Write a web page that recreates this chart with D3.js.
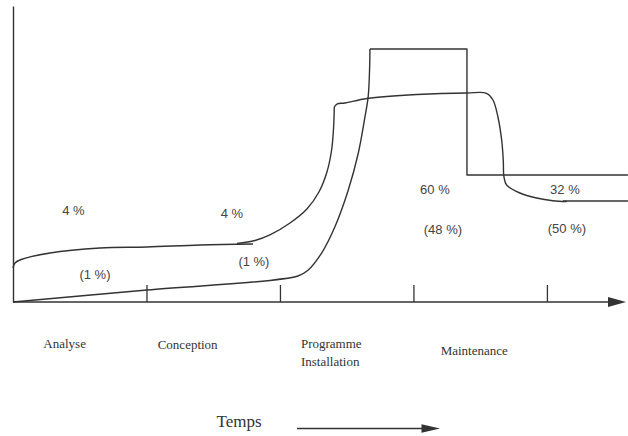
<!DOCTYPE html>
<html>
<head>
<meta charset="utf-8">
<script src="https://cdn.jsdelivr.net/npm/d3@7"></script>
<style>
  html, body { margin: 0; padding: 0; background: #fff; }
  svg { display: block; }
</style>
</head>
<body>
<svg id="chart" width="628" height="436"></svg>
<script>
// ---- Data (x in phase units, y in relative effort units 0-100) ----
const phases = ["Analyse", "Conception", "Programme\nInstallation", "Maintenance"];
const phaseTicks = [1, 2, 3, 4];

// Lower curve (values in parentheses)
const lowerCurveX = [0, 1.004, 2.135, 2.212, 2.312, 2.412, 2.512, 2.587, 2.637, 2.661, 2.672, 2.674];
const lowerCurveY = [0, 4.05, 8.78, 10.81, 16.55, 25.44, 37.84, 50.34, 62.60, 69.36, 79.49, 85.47];

// Step line continuing the lower curve
const stepX = [2.674, 3.401, 3.401, 4.607];
const stepY = [85.47, 85.47, 42.91, 42.91];

// Upper curve, first flat section
const upperFlatX = [0, 0.015, 0.052, 0.277, 0.652, 1.004, 1.401, 1.798];
const upperFlatY = [11.49, 13.2, 14.19, 16.55, 18.24, 18.58, 19.26, 19.59];

// Upper curve, rise
const upperRiseX = [1.678, 1.813, 1.925, 2.075, 2.202, 2.292, 2.352, 2.387, 2.402, 2.407];
const upperRiseY = [19.76, 20.78, 22.64, 26.69, 31.42, 37.16, 43.92, 51.35, 59.12, 65.88];

// Upper curve, plateau and decline
const upperPlateauX = [2.407, 2.427, 2.487, 2.652, 3.026, 3.401, 3.548, 3.596, 3.633, 3.661, 3.673, 3.678, 3.698, 3.798, 3.923, 4.045, 4.148];
const upperPlateauY = [65.88, 66.89, 67.23, 68.75, 70.10, 70.61, 70.51, 68.24, 62.50, 54.73, 47.97, 42.33, 39.53, 36.82, 35.14, 34.22, 33.95];

// Upper curve, final flat section
const upperTailX = [4.120, 4.607];
const upperTailY = [34.12, 34.12];

// Percent annotations
const pctLabels = ["4 %", "4 %", "(1 %)", "(1 %)", "60 %", "(48 %)", "32 %", "(50 %)"];
const pctX = [0.453, 1.640, 0.614, 1.805, 3.161, 3.221, 4.135, 4.150];
const pctY = [29.4, 28.4, 7.8, 12.2, 36.5, 22.97, 36.5, 23.3];

const timeLabel = "Temps";

// ---- Layout ----
const svg = d3.select("#chart");
const x = d3.scaleLinear().domain([0, 4.6]).range([13, 627]);
const y = d3.scaleLinear().domain([0, 100]).range([302, 6]);
const ink = "#333";

// axes
const xAxis = d3.axisBottom(x).tickValues(phaseTicks).tickSize(-17).tickSizeOuter(0).tickFormat("");
const gx = svg.append("g").attr("transform", `translate(0,${y(0)})`).call(xAxis);
gx.select(".domain").attr("stroke", ink).attr("stroke-width", 1.4).attr("d", `M${x(0)},0H${x(4.6) - 14}`);
gx.selectAll(".tick line").attr("stroke", ink).attr("stroke-width", 1.3);
svg.append("path")
  .attr("d", `M${x(4.6) - 19},${y(0) - 5}L${x(4.6) - 1},${y(0)}L${x(4.6) - 19},${y(0) + 5}Z`)
  .attr("fill", ink);

const yAxis = d3.axisLeft(y).tickValues([]).tickSizeOuter(0);
const gy = svg.append("g").attr("transform", `translate(${x(0)},0)`).call(yAxis);
gy.select(".domain").attr("stroke", ink).attr("stroke-width", 1.4);

// curves
const zip = (xs, ys) => xs.map((d, i) => [d, ys[i]]);
const smooth = d3.line().x(d => x(d[0])).y(d => y(d[1])).curve(d3.curveCatmullRom.alpha(0.5));
const straight = d3.line().x(d => x(d[0])).y(d => y(d[1])).curve(d3.curveLinear);

const curves = [
  [smooth, zip(lowerCurveX, lowerCurveY)],
  [straight, zip(stepX, stepY)],
  [smooth, zip(upperFlatX, upperFlatY)],
  [smooth, zip(upperRiseX, upperRiseY)],
  [smooth, zip(upperPlateauX, upperPlateauY)],
  [straight, zip(upperTailX, upperTailY)]
];
svg.append("g").selectAll("path").data(curves).join("path")
  .attr("d", d => d[0](d[1]))
  .attr("fill", "none")
  .attr("stroke", ink)
  .attr("stroke-width", 1.4)
  .attr("stroke-linejoin", "round");

// percent labels
svg.append("g").selectAll("text").data(pctLabels).join("text")
  .attr("x", (d, i) => x(pctX[i]))
  .attr("y", (d, i) => y(pctY[i]))
  .attr("text-anchor", "middle")
  .attr("font-family", "'Liberation Sans', Arial, sans-serif")
  .attr("font-size", 13)
  .attr("fill", "#444")
  .text(d => d);

// phase labels
const phaseLabelX = [0.227, 1.084, 2.157, 3.204];
const phaseLabelY = [-15.54, -15.88, -15.54, -17.9];
const pg = svg.append("g").selectAll("text").data(phases).join("text")
  .attr("x", (d, i) => x(phaseLabelX[i]))
  .attr("y", (d, i) => y(phaseLabelY[i]))
  .attr("font-family", "'Liberation Serif', 'Times New Roman', serif")
  .attr("font-size", 13)
  .attr("fill", ink);
pg.each(function(d, i) {
  const t = d3.select(this);
  d.split("\n").forEach((line, k) => {
    t.append("tspan").attr("x", x(phaseLabelX[i])).attr("dy", k === 0 ? 0 : 18).text(line);
  });
});

// time label and arrow
svg.append("text")
  .attr("x", 216.5).attr("y", 427)
  .attr("font-family", "'Liberation Serif', 'Times New Roman', serif")
  .attr("font-size", 17)
  .attr("fill", ink)
  .text(timeLabel);
svg.append("line").attr("x1", 297).attr("y1", 428.5).attr("x2", 424).attr("y2", 428.5)
  .attr("stroke", ink).attr("stroke-width", 1.4);
svg.append("path").attr("d", "M421.5,424.2L440,428.5L421.5,432.8Z").attr("fill", ink);
</script>
</body>
</html>
